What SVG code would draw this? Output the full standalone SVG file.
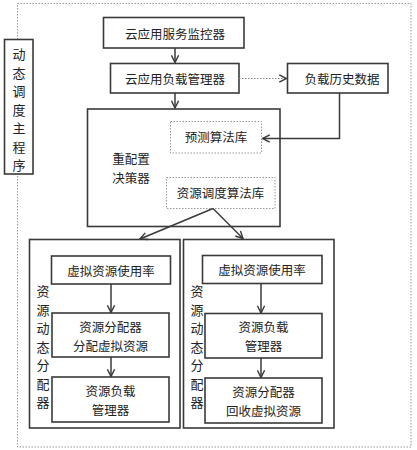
<svg xmlns="http://www.w3.org/2000/svg" width="417" height="450" viewBox="0 0 417 450">
<defs>
<style>
.bx{fill:#fff;stroke:#3a3a3a;stroke-width:1.6}
.db{fill:#fff;stroke:#999;stroke-width:1;stroke-dasharray:1.5,1.5}
.ln{fill:none;stroke:#3a3a3a;stroke-width:1.5}
.t{font-family:"Noto Sans CJK SC","Noto Sans",sans-serif;font-size:12.5px;fill:#222;text-anchor:middle;dominant-baseline:central}
.v{font-family:"Noto Sans CJK SC","Noto Sans",sans-serif;font-size:13px;fill:#222;text-anchor:middle;dominant-baseline:central}
</style>
<marker id="ar" viewBox="0 0 10 10" refX="9" refY="5" markerWidth="9" markerHeight="9" markerUnits="userSpaceOnUse" orient="auto">
<path d="M1,1 L9,5 L1,9" fill="none" stroke="#3a3a3a" stroke-width="1.6"/>
</marker>
</defs>
<rect width="417" height="450" fill="#fff"/>
<rect id="outer" x="17.5" y="3.5" width="393.5" height="443.5" fill="none" stroke="#999" stroke-width="1" stroke-dasharray="1.5,1.5"/>
<g id="main-label">
<rect class="bx" x="4.5" y="39.5" width="28.5" height="134.5"/>
<text class="v"><tspan x="19" y="53">动</tspan><tspan x="19" y="71.5">态</tspan><tspan x="19" y="90">调</tspan><tspan x="19" y="108.5">度</tspan><tspan x="19" y="127">主</tspan><tspan x="19" y="145.5">程</tspan><tspan x="19" y="164">序</tspan></text>
</g>
<g id="monitor"><rect class="bx" x="103.5" y="17.5" width="140.5" height="30.5"/><text class="t" x="175" y="33">云应用服务监控器</text></g>
<g id="loadmgr"><rect class="bx" x="110.5" y="63.5" width="128.5" height="29.5"/><text class="t" x="175" y="78.5">云应用负载管理器</text></g>
<g id="history"><rect class="bx" x="287.5" y="63.5" width="100.5" height="29.5"/><text class="t" x="342" y="78.5">负载历史数据</text></g>
<g id="decider">
<rect class="bx" x="87.5" y="109" width="192.5" height="117.5"/>
<text class="t" x="131" y="158.5">重配置</text>
<text class="t" x="131" y="177.5">决策器</text>
<g id="predict"><rect class="db" x="170.5" y="121.5" width="91" height="31.5"/><text class="t" x="216" y="136.5">预测算法库</text></g>
<g id="sched"><rect class="db" x="166.5" y="177.5" width="108.5" height="31"/><text class="t" x="220.5" y="192.5">资源调度算法库</text></g>
</g>
<g id="left-panel">
<rect class="bx" x="29.5" y="239.5" width="150.5" height="188.5"/>
<text class="v"><tspan x="43" y="290">资</tspan><tspan x="43" y="308.5">源</tspan><tspan x="43" y="327">动</tspan><tspan x="43" y="345.5">态</tspan><tspan x="43" y="364">分</tspan><tspan x="43" y="382.5">配</tspan><tspan x="43" y="401">器</tspan></text>
<g id="l-usage"><rect class="bx" x="51.5" y="256" width="119" height="28"/><text class="t" x="111" y="270">虚拟资源使用率</text></g>
<g id="l-alloc"><rect class="bx" x="52" y="313" width="117" height="44"/><text class="t" x="110.5" y="326">资源分配器</text><text class="t" x="110.5" y="345">分配虚拟资源</text></g>
<g id="l-load"><rect class="bx" x="52" y="377" width="117" height="45"/><text class="t" x="110.5" y="390.5">资源负载</text><text class="t" x="110.5" y="409.5">管理器</text></g>
</g>
<g id="right-panel">
<rect class="bx" x="183.5" y="239.5" width="150.5" height="188.5"/>
<text class="v"><tspan x="197" y="290">资</tspan><tspan x="197" y="308.5">源</tspan><tspan x="197" y="327">动</tspan><tspan x="197" y="345.5">态</tspan><tspan x="197" y="364">分</tspan><tspan x="197" y="382.5">配</tspan><tspan x="197" y="401">器</tspan></text>
<g id="r-usage"><rect class="bx" x="202.5" y="255.5" width="119.5" height="28"/><text class="t" x="262" y="269.5">虚拟资源使用率</text></g>
<g id="r-load"><rect class="bx" x="205" y="313.5" width="117" height="44.5"/><text class="t" x="263.5" y="326.5">资源负载</text><text class="t" x="263.5" y="345.5">管理器</text></g>
<g id="r-alloc"><rect class="bx" x="205" y="378" width="117" height="45"/><text class="t" x="263.5" y="391.5">资源分配器</text><text class="t" x="263.5" y="410.5">回收虚拟资源</text></g>
</g>
<g id="connectors">
<line class="ln" x1="175" y1="48" x2="175" y2="62.5" marker-end="url(#ar)"/>
<line class="ln" x1="175" y1="93" x2="175" y2="108" marker-end="url(#ar)"/>
<line x1="239" y1="78.5" x2="286.5" y2="78.5" stroke="#888" stroke-width="1.2" stroke-dasharray="1.5,1.5" marker-end="url(#ar)"/>
<polyline class="ln" points="339.5,93 339.5,138.5 262.5,138.5" marker-end="url(#ar)"/>
<line class="ln" x1="213" y1="208.5" x2="140" y2="239" marker-end="url(#ar)"/>
<line class="ln" x1="213" y1="208.5" x2="243" y2="238.5" marker-end="url(#ar)"/>
<line class="ln" x1="111" y1="284" x2="111" y2="312.5" marker-end="url(#ar)"/>
<line class="ln" x1="111" y1="357" x2="111" y2="376.5" marker-end="url(#ar)"/>
<line class="ln" x1="261" y1="283.5" x2="261" y2="313" marker-end="url(#ar)"/>
<line class="ln" x1="261" y1="358" x2="261" y2="377.5" marker-end="url(#ar)"/>
</g>
</svg>
